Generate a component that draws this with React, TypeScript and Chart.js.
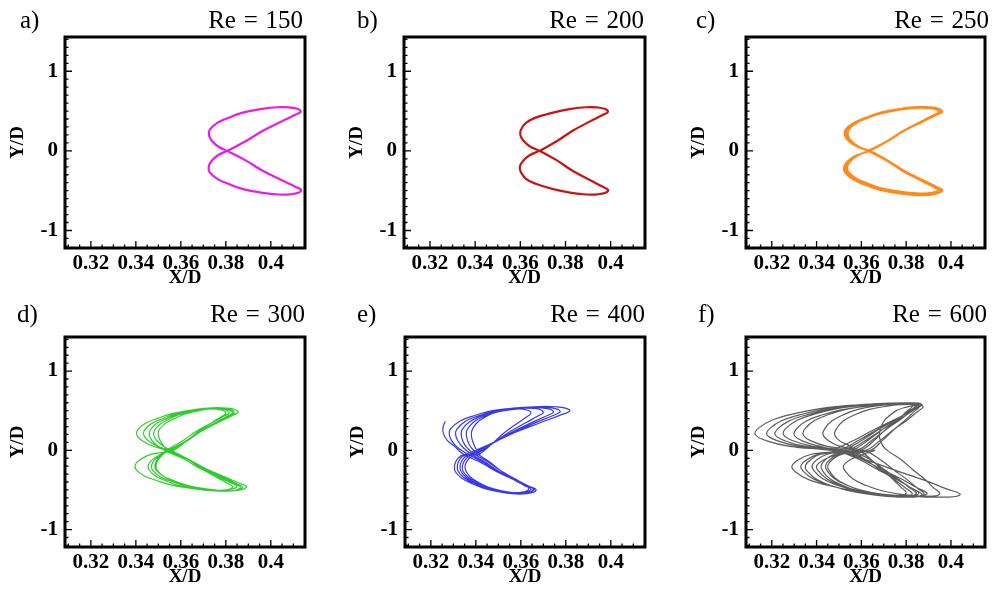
import { useEffect, useRef } from "react";
import { Chart, registerables } from "chart.js";

Chart.register(...registerables);

// ---- shared axes ----
const xTickValues = [0.32, 0.34, 0.36, 0.38, 0.4];
const xTickLabels = ["0.32", "0.34", "0.36", "0.38", "0.4"];
const yTickValues = [-1, 0, 1];
const yTickLabels = ["-1", "0", "1"];
const xLimits = [0.3085, 0.4152];
const yLimits = [-1.22, 1.43];

// ---- Re = 150: single closed figure-eight orbit ----
const re150X = [
  0.3806, 0.3888, 0.3963, 0.4048, 0.4107, 0.4133, 0.4121, 0.4084, 0.4031, 0.3962, 0.3872, 0.3811, 0.3762, 0.3729, 0.3725, 0.3737, 0.3766,
  0.3806, 0.3888, 0.3964, 0.4049, 0.4109, 0.4135, 0.4123, 0.4086, 0.4032, 0.3963, 0.3873, 0.3811, 0.3762, 0.3728, 0.3724, 0.3736, 0.3765,
  0.3806,
];
const re150Y = [
  0, 0.12, 0.25, 0.37, 0.45, 0.49, 0.525, 0.545, 0.548, 0.527, 0.477, 0.414, 0.351, 0.267, 0.2, 0.13, 0.055,
  0, -0.12, -0.25, -0.37, -0.45, -0.492, -0.527, -0.546, -0.548, -0.527, -0.477, -0.414, -0.351, -0.267, -0.2, -0.13, -0.055,
  0,
];

// ---- Re = 200 ----
const re200X = [
  0.3685, 0.3761, 0.383, 0.3909, 0.3964, 0.3988, 0.3976, 0.3941, 0.3891, 0.3825, 0.374, 0.3665, 0.3625, 0.3603, 0.36, 0.3613, 0.3643,
  0.3685, 0.3762, 0.3831, 0.391, 0.3965, 0.3989, 0.3977, 0.3942, 0.3892, 0.3826, 0.3741, 0.3668, 0.3625, 0.3602, 0.3598, 0.3611, 0.3641,
  0.3685,
];
const re200Y = [
  0, 0.12, 0.25, 0.37, 0.45, 0.49, 0.525, 0.545, 0.548, 0.527, 0.477, 0.414, 0.351, 0.267, 0.2, 0.13, 0.055,
  0, -0.12, -0.25, -0.37, -0.45, -0.492, -0.527, -0.546, -0.548, -0.527, -0.477, -0.414, -0.351, -0.267, -0.2, -0.13, -0.055,
  0,
];

// ---- Re = 250: four nearly repeating cycles ----
const re250X = [
  0.3634,
  0.3716, 0.3791, 0.3877, 0.3936, 0.3962, 0.3949, 0.391, 0.3853, 0.3778, 0.3682, 0.3617, 0.3564, 0.3529, 0.3525, 0.3541, 0.358,
  0.3634,
  0.3716, 0.379, 0.3875, 0.3933, 0.3958, 0.3945, 0.3906, 0.385, 0.3775, 0.368, 0.3616, 0.3565, 0.3532, 0.3528, 0.3544, 0.3582,
  0.3638,
  0.3716, 0.3788, 0.3869, 0.3925, 0.395, 0.3938, 0.39, 0.3846, 0.3776, 0.3684, 0.3622, 0.3572, 0.3539, 0.3535, 0.355, 0.3586,
  0.3638,
  0.3715, 0.3786, 0.3866, 0.3922, 0.3948, 0.3936, 0.3898, 0.3845, 0.3775, 0.3684, 0.3623, 0.3574, 0.3542, 0.3538, 0.3553, 0.3588,
  0.363,
  0.3712, 0.3787, 0.3872, 0.3931, 0.3957, 0.3944, 0.3906, 0.385, 0.3778, 0.3684, 0.362, 0.3568, 0.3534, 0.353, 0.3545, 0.358,
  0.363,
  0.3711, 0.3785, 0.3868, 0.3926, 0.3952, 0.3939, 0.39, 0.3844, 0.3771, 0.3677, 0.3612, 0.3561, 0.3526, 0.3522, 0.3538, 0.3576,
  0.3636,
  0.3713, 0.3784, 0.3865, 0.392, 0.3945, 0.3933, 0.3896, 0.3844, 0.3775, 0.3686, 0.3625, 0.3576, 0.3544, 0.354, 0.3554, 0.3588,
  0.3636,
  0.3718, 0.3792, 0.3877, 0.3936, 0.3962, 0.3949, 0.391, 0.3854, 0.3781, 0.3687, 0.3622, 0.3571, 0.3536, 0.3532, 0.3547, 0.3584,
  0.3634,
];
const re250Y = [
  0,
  0.12, 0.25, 0.37, 0.45, 0.49, 0.525, 0.545, 0.548, 0.527, 0.477, 0.414, 0.351, 0.267, 0.2, 0.13, 0.055,
  0,
  -0.12, -0.25, -0.37, -0.45, -0.49, -0.525, -0.545, -0.548, -0.527, -0.477, -0.414, -0.351, -0.267, -0.2, -0.13, -0.055,
  0,
  0.118, 0.245, 0.363, 0.441, 0.48, 0.515, 0.534, 0.537, 0.516, 0.467, 0.406, 0.344, 0.262, 0.196, 0.127, 0.054,
  0,
  -0.116, -0.243, -0.359, -0.437, -0.475, -0.509, -0.529, -0.532, -0.511, -0.463, -0.402, -0.34, -0.259, -0.194, -0.126, -0.053,
  0,
  0.121, 0.253, 0.374, 0.455, 0.495, 0.53, 0.55, 0.553, 0.532, 0.482, 0.418, 0.355, 0.27, 0.202, 0.131, 0.056,
  0,
  -0.122, -0.255, -0.377, -0.459, -0.5, -0.536, -0.556, -0.559, -0.538, -0.487, -0.422, -0.358, -0.272, -0.204, -0.133, -0.056,
  0,
  0.119, 0.248, 0.366, 0.446, 0.485, 0.52, 0.54, 0.543, 0.522, 0.472, 0.41, 0.347, 0.264, 0.198, 0.129, 0.054,
  0,
  -0.12, -0.25, -0.37, -0.45, -0.49, -0.525, -0.545, -0.548, -0.527, -0.477, -0.414, -0.351, -0.267, -0.2, -0.13, -0.055,
  0,
];

// ---- Re = 300: five drifting cycles ----
const re300X = [
  0.3545,
  0.3623, 0.3694, 0.3774, 0.383, 0.3855, 0.3841, 0.3801, 0.3742, 0.3666, 0.3566, 0.3499, 0.3445, 0.3409, 0.3404, 0.3425, 0.3475,
  0.3545,
  0.3632, 0.3712, 0.3802, 0.3864, 0.3892, 0.388, 0.3843, 0.379, 0.3721, 0.3632, 0.357, 0.3522, 0.3489, 0.3485, 0.3494, 0.3515,
  0.3555,
  0.3626, 0.3691, 0.3764, 0.3815, 0.3838, 0.3826, 0.379, 0.3737, 0.3669, 0.358, 0.352, 0.3471, 0.3439, 0.3435, 0.3453, 0.3495,
  0.3555,
  0.3635, 0.3709, 0.3792, 0.3849, 0.3875, 0.3863, 0.3826, 0.3774, 0.3705, 0.3616, 0.3555, 0.3506, 0.3474, 0.347, 0.3483, 0.3513,
  0.3535,
  0.3605, 0.3669, 0.3742, 0.3793, 0.3815, 0.3804, 0.3772, 0.3726, 0.3666, 0.3588, 0.3535, 0.3492, 0.3464, 0.346, 0.3471, 0.3498,
  0.3535,
  0.3614, 0.3686, 0.3768, 0.3825, 0.385, 0.3836, 0.3796, 0.3737, 0.366, 0.356, 0.3492, 0.3438, 0.3402, 0.3397, 0.3418, 0.3466,
  0.3565,
  0.3624, 0.3678, 0.3739, 0.3781, 0.38, 0.379, 0.3762, 0.372, 0.3666, 0.3595, 0.3547, 0.3509, 0.3483, 0.348, 0.3493, 0.3523,
  0.3565,
  0.3631, 0.3692, 0.3761, 0.3809, 0.383, 0.3819, 0.3785, 0.3736, 0.3672, 0.359, 0.3534, 0.3489, 0.3459, 0.3455, 0.3472, 0.351,
  0.355,
  0.362, 0.3684, 0.3757, 0.3808, 0.383, 0.382, 0.379, 0.3747, 0.3691, 0.3619, 0.3569, 0.353, 0.3503, 0.35, 0.3508, 0.3525,
  0.355,
  0.3629, 0.3701, 0.3783, 0.384, 0.3865, 0.3854, 0.382, 0.3771, 0.3707, 0.3625, 0.3569, 0.3524, 0.3494, 0.349, 0.3499, 0.352,
  0.3548,
];
const re300Y = [
  0,
  0.118, 0.245, 0.363, 0.441, 0.48, 0.515, 0.534, 0.537, 0.516, 0.467, 0.406, 0.344, 0.262, 0.196, 0.127, 0.054,
  -0.01,
  -0.112, -0.233, -0.344, -0.419, -0.456, -0.488, -0.507, -0.51, -0.49, -0.444, -0.385, -0.326, -0.248, -0.186, -0.121, -0.051,
  0,
  0.116, 0.243, 0.359, 0.437, 0.475, 0.509, 0.529, 0.532, 0.511, 0.463, 0.402, 0.34, 0.259, 0.194, 0.126, 0.053,
  -0.01,
  -0.113, -0.235, -0.348, -0.423, -0.461, -0.494, -0.512, -0.515, -0.495, -0.448, -0.389, -0.33, -0.251, -0.188, -0.122, -0.052,
  0,
  0.115, 0.24, 0.355, 0.432, 0.47, 0.504, 0.523, 0.526, 0.506, 0.458, 0.397, 0.337, 0.256, 0.192, 0.125, 0.053,
  -0.01,
  -0.11, -0.23, -0.34, -0.414, -0.451, -0.483, -0.501, -0.504, -0.485, -0.439, -0.381, -0.323, -0.246, -0.184, -0.12, -0.051,
  0,
  0.114, 0.238, 0.352, 0.428, 0.466, 0.499, 0.518, 0.521, 0.501, 0.453, 0.393, 0.333, 0.254, 0.19, 0.124, 0.052,
  -0.01,
  -0.112, -0.233, -0.344, -0.419, -0.456, -0.488, -0.507, -0.51, -0.49, -0.444, -0.385, -0.326, -0.248, -0.186, -0.121, -0.051,
  0,
  0.115, 0.24, 0.355, 0.432, 0.47, 0.504, 0.523, 0.526, 0.506, 0.458, 0.397, 0.337, 0.256, 0.192, 0.125, 0.053,
  -0.01,
  -0.113, -0.235, -0.348, -0.423, -0.461, -0.494, -0.512, -0.515, -0.495, -0.448, -0.389, -0.33, -0.251, -0.188, -0.122, -0.052,
  0,
];

// ---- Re = 400: open trajectory, upper lobes shrinking cycle by cycle ----
const re400X = [
  0.3263, 0.3254, 0.3256, 0.3272, 0.3305,
  0.3345,
  0.3426, 0.35, 0.3584, 0.3642, 0.3668, 0.3657, 0.3624, 0.3577, 0.3516, 0.3436, 0.3381, 0.3338, 0.3309, 0.3305, 0.3311, 0.333,
  0.3355,
  0.3471, 0.3577, 0.3698, 0.3781, 0.3818, 0.3802, 0.3754, 0.3684, 0.3593, 0.3475, 0.3395, 0.333, 0.3287, 0.3282, 0.3293, 0.3319,
  0.3365,
  0.3438, 0.3504, 0.358, 0.3632, 0.3655, 0.3645, 0.3615, 0.3571, 0.3513, 0.3439, 0.3389, 0.3348, 0.3321, 0.3318, 0.3323, 0.3341,
  0.3375,
  0.3475, 0.3567, 0.3671, 0.3743, 0.3775, 0.3761, 0.3719, 0.3659, 0.358, 0.3477, 0.3408, 0.3352, 0.3315, 0.331, 0.332, 0.3343,
  0.338,
  0.3446, 0.3507, 0.3576, 0.3624, 0.3645, 0.3636, 0.3607, 0.3566, 0.3513, 0.3443, 0.3396, 0.3358, 0.3333, 0.333, 0.3337, 0.3355,
  0.3385,
  0.3475, 0.3558, 0.3651, 0.3716, 0.3745, 0.3733, 0.3696, 0.3642, 0.3573, 0.3483, 0.3421, 0.3372, 0.3339, 0.3335, 0.3342, 0.336,
  0.3395,
  0.3461, 0.3522, 0.3591, 0.3639, 0.366, 0.365, 0.3622, 0.358, 0.3526, 0.3455, 0.3407, 0.3369, 0.3343, 0.334, 0.3348, 0.3368,
  0.34,
  0.3475, 0.3544, 0.3622, 0.3676, 0.37, 0.369, 0.3659, 0.3614, 0.3556, 0.3481, 0.343, 0.3389, 0.3361, 0.3358, 0.3364, 0.3379,
  0.341,
  0.3466, 0.3518, 0.3577, 0.3617, 0.3635, 0.3627, 0.3601, 0.3564, 0.3516, 0.3454, 0.3411, 0.3377, 0.3355, 0.3352, 0.3361, 0.3381,
  0.3415,
  0.3473, 0.3525, 0.3585, 0.3627, 0.3645, 0.3637, 0.3613, 0.3579, 0.3534, 0.3475, 0.3436, 0.3404, 0.3383, 0.338, 0.3386, 0.3398,
  0.3418,
];
const re400Y = [
  0.36, 0.29, 0.21, 0.13, 0.05,
  -0.05,
  -0.16, -0.28, -0.39, -0.46, -0.495, -0.53, -0.548, -0.55, -0.53, -0.48, -0.417, -0.353, -0.27, -0.205, -0.14, -0.075,
  -0.05,
  0.09, 0.23, 0.36, 0.45, 0.495, 0.53, 0.55, 0.553, 0.54, 0.5, 0.44, 0.37, 0.27, 0.2, 0.12, 0.035,
  -0.05,
  -0.16, -0.278, -0.386, -0.456, -0.485, -0.52, -0.54, -0.543, -0.522, -0.472, -0.41, -0.347, -0.264, -0.198, -0.14, -0.075,
  -0.05,
  0.09, 0.228, 0.356, 0.44, 0.485, 0.52, 0.54, 0.543, 0.53, 0.49, 0.432, 0.364, 0.264, 0.198, 0.12, 0.035,
  -0.05,
  -0.158, -0.275, -0.383, -0.451, -0.48, -0.515, -0.534, -0.537, -0.516, -0.467, -0.406, -0.344, -0.262, -0.196, -0.138, -0.074,
  -0.05,
  0.088, 0.225, 0.353, 0.436, 0.48, 0.515, 0.534, 0.537, 0.524, 0.485, 0.428, 0.36, 0.262, 0.196, 0.118, 0.034,
  -0.05,
  -0.16, -0.278, -0.386, -0.456, -0.485, -0.52, -0.54, -0.543, -0.522, -0.472, -0.41, -0.347, -0.264, -0.198, -0.14, -0.075,
  -0.05,
  0.086, 0.223, 0.349, 0.432, 0.475, 0.509, 0.529, 0.532, 0.518, 0.478, 0.42, 0.355, 0.259, 0.194, 0.116, 0.033,
  -0.05,
  -0.156, -0.273, -0.379, -0.447, -0.475, -0.509, -0.529, -0.532, -0.511, -0.463, -0.402, -0.34, -0.259, -0.194, -0.136, -0.073,
  -0.05,
  0.084, 0.218, 0.342, 0.424, 0.466, 0.499, 0.518, 0.521, 0.505, 0.465, 0.41, 0.345, 0.254, 0.19, 0.114, 0.032,
  -0.05,
];

// ---- Re = 600: irregular cycles of varying size ----
const re600X = [
  0.347,
  0.357, 0.3662, 0.3758, 0.3822, 0.387, 0.3855, 0.381, 0.3721, 0.3587, 0.3424, 0.3297, 0.32, 0.3141, 0.3126, 0.3178, 0.3281,
  0.348,
  0.362, 0.3749, 0.3884, 0.3974, 0.4041, 0.4026, 0.3981, 0.3891, 0.3756, 0.359, 0.3463, 0.3365, 0.3305, 0.329, 0.3319, 0.3376,
  0.35,
  0.359, 0.3673, 0.3759, 0.3817, 0.386, 0.3846, 0.3805, 0.3724, 0.3601, 0.3451, 0.3335, 0.3246, 0.3192, 0.3178, 0.3226, 0.3323,
  0.351,
  0.3606, 0.3694, 0.3786, 0.3847, 0.3893, 0.3882, 0.3848, 0.378, 0.3679, 0.3555, 0.3459, 0.3386, 0.3341, 0.333, 0.3357, 0.3411,
  0.352,
  0.3603, 0.3678, 0.3758, 0.381, 0.385, 0.3837, 0.3799, 0.3723, 0.3609, 0.3469, 0.3361, 0.3278, 0.3228, 0.3215, 0.3261, 0.3352,
  0.353,
  0.3612, 0.3686, 0.3765, 0.3817, 0.3856, 0.3846, 0.3818, 0.3761, 0.3675, 0.357, 0.3489, 0.3428, 0.339, 0.338, 0.3403, 0.3448,
  0.354,
  0.3622, 0.3697, 0.3776, 0.3829, 0.3868, 0.3856, 0.3819, 0.3745, 0.3634, 0.3498, 0.3394, 0.3314, 0.3264, 0.3252, 0.3295, 0.3382,
  0.355,
  0.3619, 0.3683, 0.3749, 0.3794, 0.3827, 0.3819, 0.3794, 0.3746, 0.3672, 0.3583, 0.3514, 0.3461, 0.3428, 0.342, 0.344, 0.3479,
  0.356,
  0.363, 0.3694, 0.3762, 0.3806, 0.384, 0.3829, 0.3797, 0.3732, 0.3635, 0.3516, 0.3424, 0.3354, 0.3311, 0.33, 0.3339, 0.3417,
  0.35,
  0.3593, 0.3678, 0.3766, 0.3826, 0.387, 0.386, 0.3828, 0.3766, 0.3672, 0.3558, 0.347, 0.3402, 0.336, 0.335, 0.3373, 0.3418,
  0.358,
  0.3649, 0.3712, 0.3778, 0.3822, 0.3855, 0.3845, 0.3814, 0.3752, 0.3659, 0.3546, 0.3458, 0.3391, 0.335, 0.334, 0.3376, 0.3448,
  0.359,
  0.3643, 0.3691, 0.3741, 0.3775, 0.38, 0.3793, 0.3772, 0.373, 0.3667, 0.359, 0.353, 0.3485, 0.3457, 0.345, 0.3471, 0.3513,
  0.36,
  0.3658, 0.371, 0.3766, 0.3802, 0.383, 0.3822, 0.3798, 0.375, 0.3678, 0.3589, 0.3521, 0.3469, 0.3437, 0.3429, 0.3455, 0.3506,
  0.362,
  0.3685, 0.3745, 0.3807, 0.3849, 0.388, 0.387, 0.3842, 0.3784, 0.3698, 0.3592, 0.351, 0.3448, 0.341, 0.34, 0.3433, 0.3499,
  0.364,
  0.3695, 0.3746, 0.3798, 0.3834, 0.386, 0.3852, 0.383, 0.3784, 0.3716, 0.3633, 0.3568, 0.3519, 0.3489, 0.3481, 0.3505, 0.3553,
  0.357,
  0.3639, 0.3702, 0.3768, 0.3812, 0.3845, 0.3837, 0.3813, 0.3764, 0.3691, 0.3602, 0.3533, 0.348, 0.3448, 0.344, 0.346, 0.3499,
  0.362,
  0.3684, 0.3742, 0.3804, 0.3844, 0.3875, 0.3871, 0.3859, 0.3836, 0.3801, 0.3758, 0.3725, 0.3699, 0.3684, 0.368, 0.3686, 0.3698,
  0.372,
  0.3778, 0.383, 0.3886, 0.3922, 0.395, 0.3941, 0.3916, 0.3864, 0.3787, 0.3692, 0.3619, 0.3563, 0.3529, 0.352, 0.355, 0.361,
  0.366,
];
const re600Y = [
  0,
  0.13, 0.27, 0.4, 0.5, 0.57, 0.595, 0.6, 0.595, 0.575, 0.53, 0.46, 0.38, 0.28, 0.2, 0.12, 0.05,
  -0.01,
  -0.12, -0.25, -0.38, -0.48, -0.55, -0.58, -0.59, -0.59, -0.57, -0.52, -0.45, -0.37, -0.27, -0.2, -0.12, -0.05,
  0,
  0.129, 0.267, 0.396, 0.495, 0.564, 0.589, 0.594, 0.589, 0.569, 0.525, 0.455, 0.376, 0.277, 0.198, 0.119, 0.05,
  -0.01,
  -0.118, -0.245, -0.372, -0.47, -0.539, -0.568, -0.578, -0.578, -0.559, -0.51, -0.441, -0.363, -0.265, -0.196, -0.118, -0.049,
  0,
  0.127, 0.265, 0.392, 0.49, 0.559, 0.583, 0.588, 0.583, 0.564, 0.519, 0.451, 0.372, 0.274, 0.196, 0.118, 0.049,
  -0.01,
  -0.116, -0.243, -0.369, -0.466, -0.534, -0.563, -0.572, -0.572, -0.553, -0.504, -0.437, -0.359, -0.262, -0.194, -0.116, -0.049,
  0,
  0.13, 0.27, 0.4, 0.5, 0.57, 0.595, 0.6, 0.595, 0.575, 0.53, 0.46, 0.38, 0.28, 0.2, 0.12, 0.05,
  -0.01,
  -0.118, -0.245, -0.372, -0.47, -0.539, -0.568, -0.578, -0.578, -0.559, -0.51, -0.441, -0.363, -0.265, -0.196, -0.118, -0.049,
  0,
  0.126, 0.262, 0.388, 0.485, 0.553, 0.577, 0.582, 0.577, 0.558, 0.514, 0.446, 0.369, 0.272, 0.194, 0.116, 0.049,
  -0.01,
  -0.12, -0.25, -0.38, -0.48, -0.55, -0.58, -0.59, -0.59, -0.57, -0.52, -0.45, -0.37, -0.27, -0.2, -0.12, -0.05,
  0,
  0.129, 0.267, 0.396, 0.495, 0.564, 0.589, 0.594, 0.589, 0.569, 0.525, 0.455, 0.376, 0.277, 0.198, 0.119, 0.05,
  -0.01,
  -0.115, -0.24, -0.365, -0.461, -0.528, -0.557, -0.566, -0.566, -0.547, -0.499, -0.432, -0.355, -0.259, -0.192, -0.115, -0.048,
  0,
  0.127, 0.265, 0.392, 0.49, 0.559, 0.583, 0.588, 0.583, 0.564, 0.519, 0.451, 0.372, 0.274, 0.196, 0.118, 0.049,
  -0.01,
  -0.119, -0.248, -0.376, -0.475, -0.545, -0.574, -0.584, -0.584, -0.564, -0.515, -0.446, -0.366, -0.267, -0.198, -0.119, -0.05,
  0,
  0.126, 0.262, 0.388, 0.485, 0.553, 0.577, 0.582, 0.577, 0.558, 0.514, 0.446, 0.369, 0.272, 0.194, 0.116, 0.049,
  -0.01,
  -0.116, -0.243, -0.369, -0.466, -0.534, -0.563, -0.572, -0.572, -0.553, -0.504, -0.437, -0.359, -0.262, -0.194, -0.116, -0.049,
  0,
  0.124, 0.257, 0.38, 0.475, 0.542, 0.565, 0.57, 0.565, 0.546, 0.504, 0.437, 0.361, 0.266, 0.19, 0.114, 0.048,
  -0.01,
  -0.118, -0.245, -0.372, -0.47, -0.539, -0.568, -0.578, -0.578, -0.559, -0.51, -0.441, -0.363, -0.265, -0.196, -0.118, -0.049,
  0,
];

// ---- layout ----
const SERIF = "'Liberation Serif', 'Times New Roman', serif";
const AXIS_W = 64; // room left of the plot box for y labels and title
const PAD_TOP = 37; // room above the plot box inside each canvas
const PAD_RIGHT = 8;
const AXIS_H = 44; // room below the plot box for x labels and title
const X_MINOR = 0.005;
const Y_MINOR = 0.1;

type PanelSpec = {
  letter: string;
  title: string;
  xs: number[];
  ys: number[];
  color: string;
  lineWidth: number;
  box: { left: number; top: number; w: number; h: number };
  letterLeft: number;
  titleRight: number;
  textTop: number;
};

const panels: PanelSpec[] = [
  { letter: "a)", title: "Re = 150", xs: re150X, ys: re150Y, color: "#e81ce8", lineWidth: 2.2, box: { left: 65, top: 37, w: 240, h: 211 }, letterLeft: 20, titleRight: 303, textTop: 7 },
  { letter: "b)", title: "Re = 200", xs: re200X, ys: re200Y, color: "#c91414", lineWidth: 2.2, box: { left: 404, top: 37, w: 241, h: 211 }, letterLeft: 357, titleRight: 644, textTop: 7 },
  { letter: "c)", title: "Re = 250", xs: re250X, ys: re250Y, color: "#ff8a1c", lineWidth: 1.7, box: { left: 746, top: 37, w: 239, h: 211 }, letterLeft: 696, titleRight: 989, textTop: 7 },
  { letter: "d)", title: "Re = 300", xs: re300X, ys: re300Y, color: "#2fcc2f", lineWidth: 1.2, box: { left: 65, top: 337, w: 240, h: 210 }, letterLeft: 17, titleRight: 305, textTop: 301 },
  { letter: "e)", title: "Re = 400", xs: re400X, ys: re400Y, color: "#3a3ae8", lineWidth: 1.2, box: { left: 405, top: 337, w: 240, h: 210 }, letterLeft: 357, titleRight: 645, textTop: 301 },
  { letter: "f)", title: "Re = 600", xs: re600X, ys: re600Y, color: "#5c5c5c", lineWidth: 1.2, box: { left: 746, top: 337, w: 239, h: 210 }, letterLeft: 698, titleRight: 987, textTop: 301 },
];

// Inward major/minor tick marks on the bottom and left axes, plus the heavy frame.
const frameAndTicks = {
  id: "frameAndTicks",
  afterDraw(chart: any) {
    const { ctx, chartArea, scales } = chart;
    const { left, right, top, bottom } = chartArea;
    const sx = scales.x;
    const sy = scales.y;
    ctx.save();
    ctx.strokeStyle = "#000";
    ctx.lineWidth = 1.3;
    ctx.beginPath();
    for (let k = Math.ceil(sx.min / X_MINOR); k * X_MINOR <= sx.max; k++) {
      const v = k * X_MINOR;
      const major = xTickValues.some((t) => Math.abs(t - v) < 1e-9);
      const p = sx.getPixelForValue(v);
      ctx.moveTo(p, bottom);
      ctx.lineTo(p, bottom - (major ? 7 : 3.5));
    }
    for (let k = Math.ceil(sy.min / Y_MINOR); k * Y_MINOR <= sy.max; k++) {
      const v = k * Y_MINOR;
      const major = yTickValues.some((t) => Math.abs(t - v) < 1e-9);
      const p = sy.getPixelForValue(v);
      ctx.moveTo(left, p);
      ctx.lineTo(left + (major ? 7 : 3.5), p);
    }
    ctx.stroke();
    ctx.lineWidth = 3;
    ctx.strokeRect(left, top, right - left, bottom - top);
    ctx.restore();
  },
};

function Panel({ spec }: { spec: PanelSpec }) {
  const ref = useRef<HTMLCanvasElement>(null);
  const cw = AXIS_W + spec.box.w + PAD_RIGHT;
  const ch = PAD_TOP + spec.box.h + AXIS_H;

  useEffect(() => {
    const canvas = ref.current;
    if (!canvas) return;
    const n = Math.min(spec.xs.length, spec.ys.length);
    const points = [];
    for (let i = 0; i < n; i++) points.push({ x: spec.xs[i], y: spec.ys[i] });

    const tickFont = { family: SERIF, size: 21, weight: "bold" as const };
    const titleFont = { family: SERIF, size: 19, weight: "bold" as const };

    const chart = new Chart(canvas, {
      type: "line",
      data: {
        datasets: [
          {
            data: points,
            borderColor: spec.color,
            borderWidth: spec.lineWidth,
            pointRadius: 0,
            tension: 0.4,
            fill: false,
            borderJoinStyle: "round",
            borderCapStyle: "round",
          },
        ],
      },
      options: {
        responsive: false,
        animation: false,
        devicePixelRatio: 1,
        events: [],
        layout: { padding: { top: PAD_TOP, right: PAD_RIGHT, left: 0, bottom: 0 } },
        plugins: { legend: { display: false }, tooltip: { enabled: false }, title: { display: false } },
        scales: {
          x: {
            type: "linear",
            min: xLimits[0],
            max: xLimits[1],
            afterBuildTicks: (s: any) => {
              s.ticks = xTickValues.map((value) => ({ value }));
            },
            afterFit: (s: any) => {
              s.height = AXIS_H;
            },
            ticks: {
              autoSkip: false,
              maxRotation: 0,
              minRotation: 0,
              padding: 3,
              color: "#000",
              font: tickFont,
              callback: (v: any) => xTickLabels[xTickValues.indexOf(Number(v))] ?? "",
            },
            grid: { display: false, drawTicks: false },
            border: { display: false },
            title: { display: true, text: "X/D", color: "#000", font: titleFont, padding: { top: 0, bottom: 3 } },
          },
          y: {
            type: "linear",
            min: yLimits[0],
            max: yLimits[1],
            afterBuildTicks: (s: any) => {
              s.ticks = yTickValues.map((value) => ({ value }));
            },
            afterFit: (s: any) => {
              s.width = AXIS_W;
            },
            ticks: {
              autoSkip: false,
              padding: 7,
              color: "#000",
              font: tickFont,
              callback: (v: any) => yTickLabels[yTickValues.indexOf(Number(v))] ?? "",
            },
            grid: { display: false, drawTicks: false },
            border: { display: false },
            title: { display: true, text: "Y/D", color: "#000", font: titleFont, padding: { top: 6, bottom: 0 } },
          },
        },
      } as any,
      plugins: [frameAndTicks],
    });
    return () => chart.destroy();
  }, [spec]);

  const textStyle: React.CSSProperties = {
    position: "absolute",
    top: spec.textTop,
    fontFamily: SERIF,
    fontSize: 25,
    lineHeight: "25px",
    color: "#000",
    whiteSpace: "pre",
  };

  return (
    <>
      <canvas
        ref={ref}
        width={cw}
        height={ch}
        style={{ position: "absolute", left: spec.box.left - AXIS_W, top: spec.box.top - PAD_TOP, width: cw, height: ch }}
      />
      <span style={{ ...textStyle, left: spec.letterLeft }}>{spec.letter}</span>
      <span style={{ ...textStyle, right: 993 - spec.titleRight, wordSpacing: "1.5px" }}>{spec.title}</span>
    </>
  );
}

export default function App() {
  return (
    <div style={{ position: "fixed", left: 0, top: 0, width: 993, height: 591, background: "#fff", overflow: "hidden" }}>
      {panels.map((p) => (
        <Panel key={p.letter} spec={p} />
      ))}
    </div>
  );
}
